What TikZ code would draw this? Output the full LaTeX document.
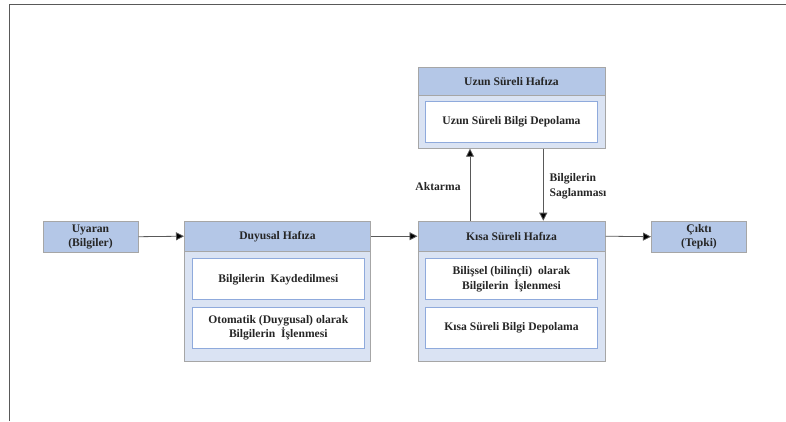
\documentclass[tikz,border=0pt]{standalone}
\usepackage{fontspec}
\setmainfont{Liberation Serif}
\usetikzlibrary{arrows.meta}
\definecolor{headfill}{HTML}{B4C7E7}
\definecolor{bodyfill}{HTML}{DAE3F3}
\definecolor{boxline}{HTML}{A6A6A6}
\definecolor{innerline}{HTML}{8FAADC}
\definecolor{txt}{HTML}{262626}
\tikzset{
  every node/.style={font=\fontsize{11.6}{14.2}\selectfont\bfseries, text=txt, inner sep=0pt},
  bodybox/.style={draw=boxline, fill=bodyfill, line width=1pt, anchor=north west},
  headbox/.style={draw=boxline, fill=headfill, line width=1pt, anchor=north west, align=center},
  innerbox/.style={draw=innerline, fill=white, line width=1pt, anchor=north west, align=center, minimum width=172pt},
  arr/.style={draw=black!65, line width=0.8pt, -{Triangle[length=8pt,width=8pt,fill=black]}},
  lbl/.style={align=center}
}
\begin{document}
\begin{tikzpicture}[x=1pt,y=-1pt]
\useasboundingbox (0,0) rectangle (786,421);
\draw[draw=black!65, line width=1pt] (9,421) -- (9,4.5) -- (786,4.5);

% Uyaran
\node[headbox, minimum width=95pt, minimum height=31pt] (uya) at (42.5,220.7) {Uyaran\\(Bilgiler)};

% Duyusal
\node[bodybox, minimum width=186pt, minimum height=140pt] (duy) at (184,220.7) {};
\node[headbox, minimum width=186pt, minimum height=30pt] (duyh) at (184,220.7) {Duyusal Hafıza};
\node[innerbox, minimum height=40.7pt] (duy1) at (191.8,258.4) {Bilgilerin~ Kaydedilmesi};
\node[innerbox, minimum height=40.4pt] (duy2) at (191.8,307.3) {Otomatik (Duygusal) olarak\\Bilgilerin~ İşlenmesi};

% Kisa
\node[bodybox, minimum width=187pt, minimum height=140pt] (kis) at (417.5,220.7) {};
\node[headbox, minimum width=187pt, minimum height=30pt] (kish) at (417.5,220.7) {Kısa Süreli Hafıza};
\node[innerbox, minimum height=40.7pt] (kis1) at (425,258.4) {Bilişsel (bilinçli)~ olarak\\Bilgilerin~ İşlenmesi};
\node[innerbox, minimum height=40.4pt] (kis2) at (425,307.3) {Kısa Süreli Bilgi Depolama};

% Uzun
\node[bodybox, minimum width=187pt, minimum height=81pt] (uzn) at (417.5,66.7) {};
\node[headbox, minimum width=187pt, minimum height=28.5pt] (uznh) at (417.5,66.7) {Uzun Süreli Hafıza};
\node[innerbox, minimum height=41pt] (uzn1) at (425,100.9) {Uzun Süreli Bilgi Depolama};

% Cikti
\node[headbox, minimum width=95pt, minimum height=31pt] (cik) at (651,220.7) {Çıktı\\(Tepki)};

% connectors
\coordinate (akx) at (470,0);
\coordinate (sgx) at (543.3,0);
\draw[arr] (uya.east) -- (duyh.west);
\draw[arr] (duyh.east) -- (kish.west);
\draw[arr] (kish.east) -- (cik.west);
\draw[arr] (kish.north -| akx) -- (uzn.south -| akx);
\draw[arr] (uzn.south -| sgx) -- (kish.north -| sgx);

\node[lbl] (aktl) at (438,187) {Aktarma};
\node[lbl, anchor=west, align=left] (sagl) at (549.5,186.3) {Bilgilerin\\Saglanması};
\end{tikzpicture}
\end{document}
